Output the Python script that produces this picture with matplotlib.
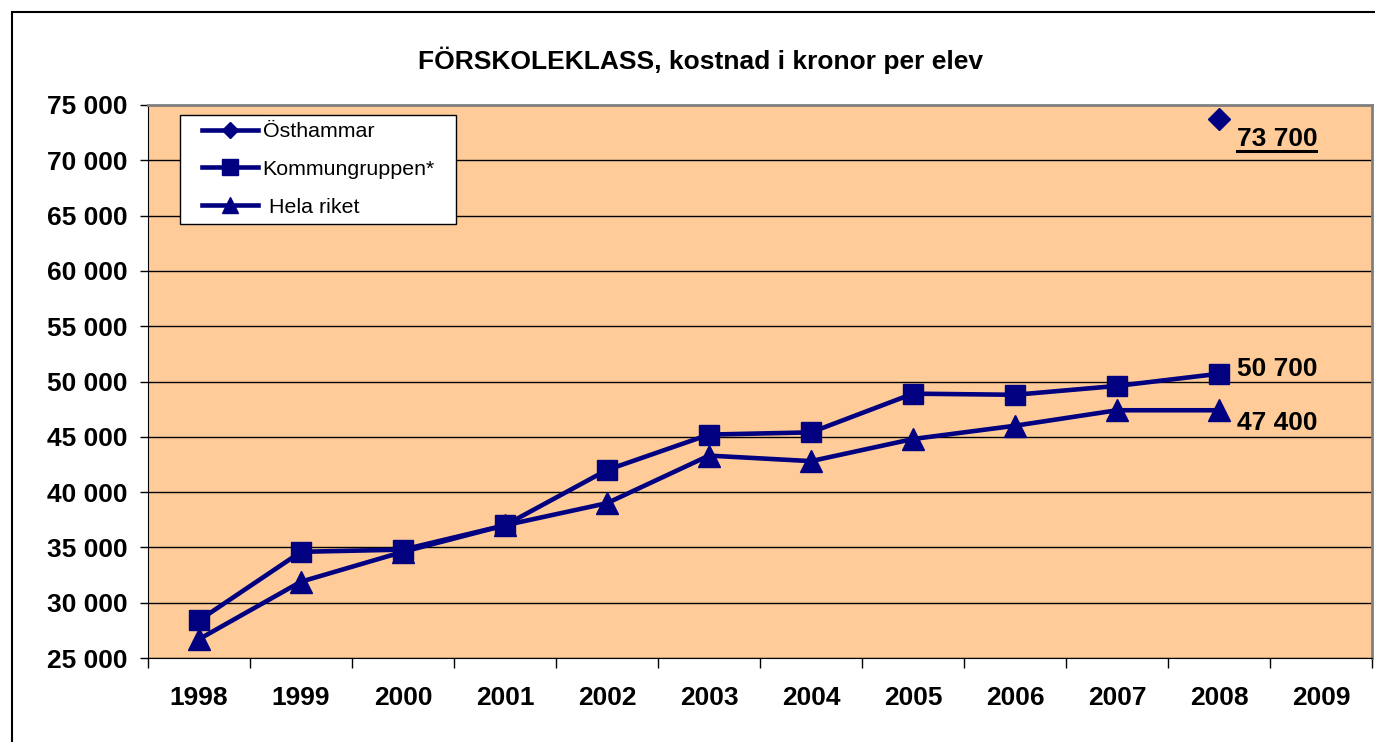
import numpy as np
import matplotlib
matplotlib.use('Agg')
import matplotlib.pyplot as plt
from matplotlib.patches import Rectangle

years = ['1998', '1999', '2000', '2001', '2002', '2003', '2004', '2005', '2006', '2007', '2008', '2009']
osthammar = [None, None, None, None, None, None, None, None, None, None, 73700, None]
kommungruppen = [28400, 34600, 34800, 37000, 42000, 45200, 45400, 48900, 48800, 49600, 50700, None]
hela_riket = [26700, 31900, 34600, 37000, 39000, 43300, 42800, 44800, 46000, 47400, 47400, None]

navy = '#000080'
bg = '#FFCC99'
W, H = 1375, 742

plt.rcParams['font.family'] = ['Liberation Sans', 'DejaVu Sans']

fig = plt.figure(figsize=(13.75, 7.42), dpi=100)
ax = fig.add_axes([148 / W, 1 - 658 / H, 1224 / W, 553 / H])
ax.set_facecolor(bg)

x = np.arange(len(years))


def to_arr(vals):
    return np.array([np.nan if v is None else v for v in vals], dtype=float)


ax.plot(x, to_arr(osthammar), '-D', color=navy, lw=3.3, ms=11, label='Östhammar', zorder=5)
ax.plot(x, to_arr(kommungruppen), '-s', color=navy, lw=3.3, ms=15, label='Kommungruppen*', zorder=4)
ax.plot(x, to_arr(hela_riket), '-^', color=navy, lw=3.3, ms=16, label=' Hela riket', zorder=3)

# data labels at 2008
ax.annotate('73 700', (x[10], osthammar[10]), xytext=(13, -14), textcoords='offset points',
            fontsize=19, fontweight='bold', ha='left', va='center')
ax.annotate('50 700', (x[10], kommungruppen[10]), xytext=(13, 3.6), textcoords='offset points',
            fontsize=19, fontweight='bold', ha='left', va='center')
ax.annotate('47 400', (x[10], hela_riket[10]), xytext=(13, -9), textcoords='offset points',
            fontsize=19, fontweight='bold', ha='left', va='center')

ax.set_xlim(-0.5, len(years) - 0.5)
ax.set_ylim(25000, 75000)
yt = np.arange(25000, 75001, 5000)
ax.set_yticks(yt)
ax.set_yticklabels([f'{v:,}'.replace(',', ' ') for v in yt])
ax.set_xticks(x)
ax.set_xticklabels(years)
ax.set_xticks(np.arange(-0.5, len(years)), minor=True)
ax.tick_params(axis='x', which='major', length=0, pad=20, labelsize=19)
ax.tick_params(axis='x', which='minor', length=7, width=1)
ax.tick_params(axis='y', length=6, width=1, labelsize=19, pad=9)
for lbl in ax.get_xticklabels() + ax.get_yticklabels():
    lbl.set_fontweight('bold')

ax.grid(axis='y', color='black', lw=1)
ax.set_axisbelow(True)
ax.spines['top'].set_color('#808080')
ax.spines['right'].set_color('#808080')
ax.spines['top'].set_linewidth(2)
ax.spines['right'].set_linewidth(2)

# underline under 73 700
fig.add_artist(plt.Line2D([1237 / W, 1316 / W], [1 - 151 / H, 1 - 151 / H], color='black', lw=2.2))

fig.text(701 / W, 1 - 60 / H, 'FÖRSKOLEKLASS, kostnad i kronor per elev', fontsize=19,
         fontweight='bold', ha='center', va='center')

# legend box drawn separately, legend entries placed inside
ax.add_patch(Rectangle((180 / W, 1 - 224 / H), 276 / W, 109 / H, transform=fig.transFigure,
                       facecolor='white', edgecolor='black', lw=1, zorder=6, clip_on=False))
leg = ax.legend(loc='upper left', bbox_to_anchor=(202 / W, 1 - 122 / H),
                bbox_transform=fig.transFigure, fontsize=15.4, frameon=False,
                handlelength=2.6, handletextpad=0.23, borderpad=0, borderaxespad=0,
                labelspacing=0.88, markerscale=0.75)
leg.set_zorder(7)

# outer chart border
fig.add_artist(Rectangle((12 / W, -0.05), 1.2, 1 - 12 / H + 0.05, fill=False,
                         edgecolor='black', lw=1.5, transform=fig.transFigure))

fig.savefig('out.png', dpi=100)
